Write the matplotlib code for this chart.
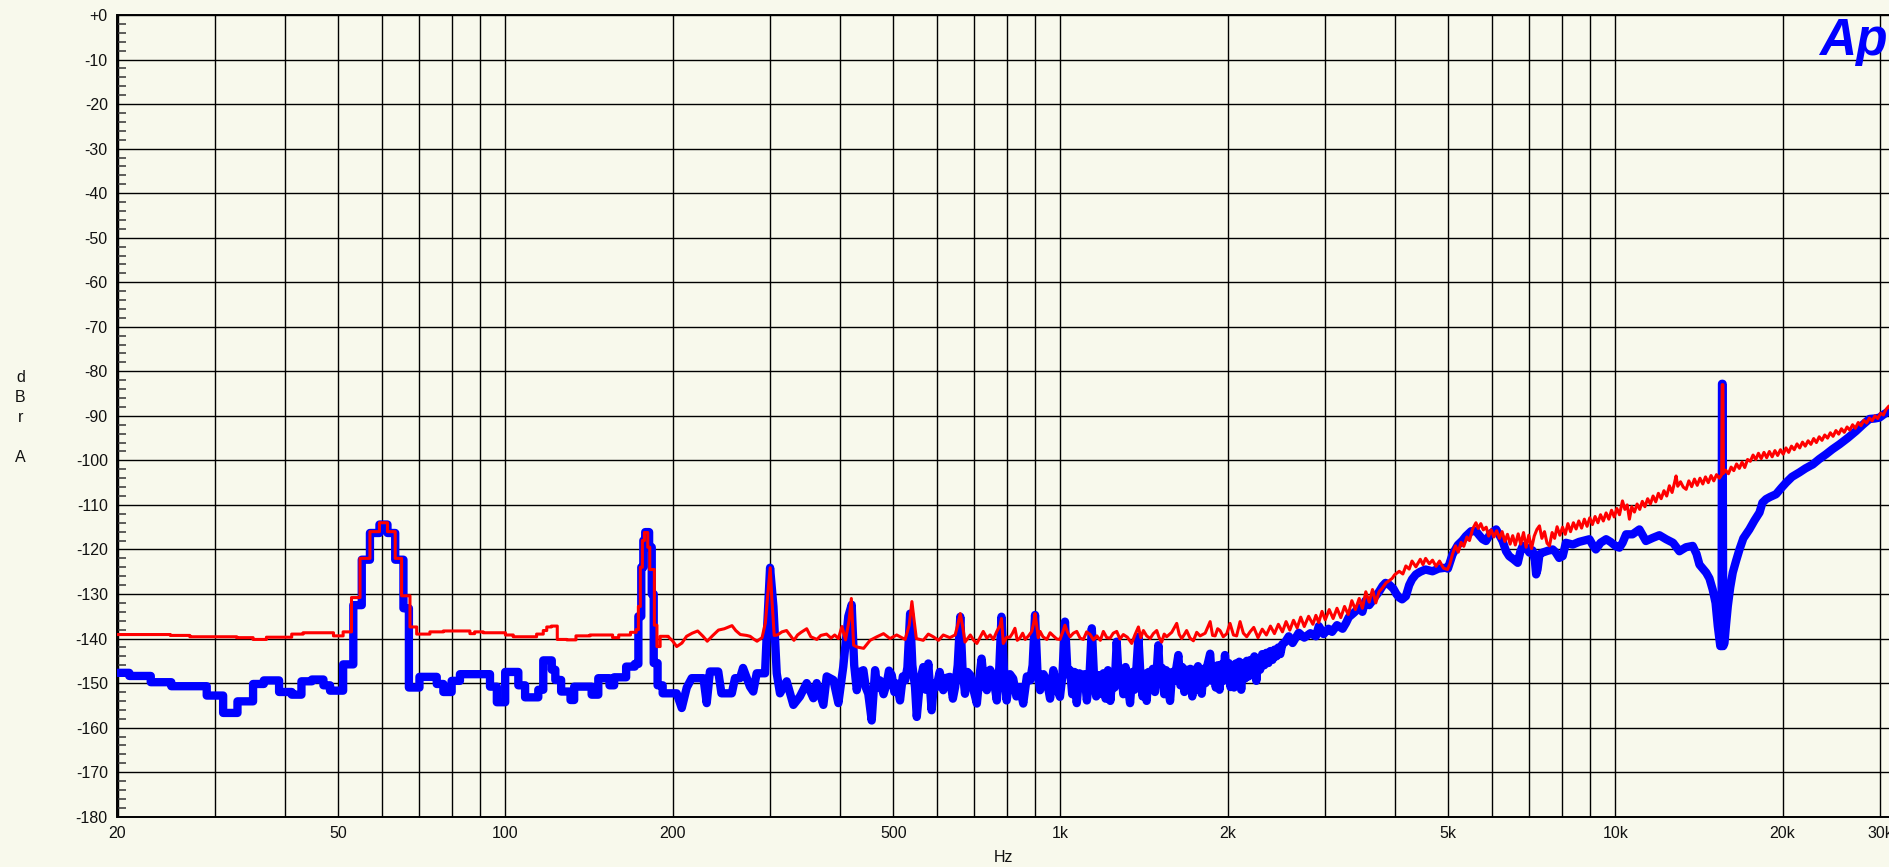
import numpy as np
import matplotlib
matplotlib.use("Agg")
import matplotlib.pyplot as plt
from matplotlib.ticker import FixedLocator, FixedFormatter, MultipleLocator, NullLocator

plt.rcParams['font.family'] = ['Liberation Sans', 'DejaVu Sans']

# ---------------- data (Hz, dBrA) ----------------
# low-frequency FFT bins drawn as steps (start frequency of each bin, level)
blue_step_hz = [20.0, 21.0, 22.96, 25.0, 28.96, 31.0, 32.9, 35.1, 36.7, 39.1, 41.2, 42.9, 44.8, 47.0,
                48.3, 51.0, 53.2, 55.1, 57.0, 59.3, 61.3, 63.3, 65.5, 67.0, 70.0, 75.2, 77.3, 80.0,
                82.8, 93.8, 96.5, 99.9, 105.5, 108.5, 114.6, 117.0, 121.2, 123.0, 126.0, 131.0,
                133.0, 143.0, 147.0, 154.0, 157.0, 165.0, 171.0, 173.6, 175.7, 177.2, 178.6, 181.5,
                183.5, 185.0, 188.0, 192.0, 196.5]
blue_step_db = [-147.7, -148.4, -149.8, -150.7, -152.8, -156.7, -154.1, -150.2, -149.4, -152.0, -152.6,
                -149.6, -149.2, -150.5, -151.7, -145.8, -132.5, -122.3, -116.3, -114.4, -116.3, -122.3,
                -133.2, -151.0, -148.6, -150.2, -152.0, -149.5, -148.0, -150.8, -154.3, -147.5, -150.5,
                -153.2, -151.5, -144.9, -147.0, -149.3, -151.9, -153.8, -150.8, -152.6, -148.9, -150.5,
                -148.7, -146.3, -145.7, -135.0, -124.0, -118.0, -116.1, -119.5, -130.0, -145.5, -150.5,
                -152.3, -152.3]

blue_hz = [203.5, 207.8, 212.2, 216.6, 227.4, 230.5, 233.6, 241.8, 245, 255.8, 259.2, 264.6, 268, 275.8,
           279.6, 283.6, 293.6, 295.4, 299.8, 304, 308.2, 312.4, 321.2, 330.2, 339.4, 349, 358.8, 363.8,
           374, 379.2, 389.8, 398, 406.2, 414.8, 420.6,
           425, 429.6, 435, 441.5, 446, 450.6, 457, 463.5, 468, 473, 480, 486.4, 491, 496.7, 502, 507,
           514, 520, 525, 530, 536, 541, 547, 551, 558, 566, 572, 578, 586, 592, 598, 606, 615, 624,
           632, 640, 646, 653, 660, 666, 673, 680, 688, 697, 707, 714, 721, 729, 737, 747, 757, 768,
           776, 783, 791, 800, 811, 822, 833, 845, 857, 870, 882, 891, 900, 909, 919, 932, 945, 958,
           971, 985,
           998, 1008, 1019, 1030, 1041, 1050, 1060, 1070, 1082, 1093, 1105, 1116, 1128, 1139, 1150,
           1160, 1171, 1183, 1195, 1206, 1218, 1230, 1242, 1252, 1263, 1274, 1286, 1298, 1310, 1322,
           1335, 1348, 1360, 1370, 1382, 1394, 1406, 1418, 1430, 1442, 1455, 1467, 1480, 1490, 1501,
           1512, 1525, 1538, 1550, 1562, 1576, 1590, 1604, 1618, 1631, 1645, 1658, 1672, 1686, 1700,
           1714, 1728, 1742, 1756, 1770, 1785, 1797, 1812, 1826, 1840, 1861, 1875, 1890, 1905, 1920,
           1935, 1950, 1965, 1979, 1995, 2010, 2025, 2040, 2055, 2070, 2085, 2100, 2117, 2133, 2150,
           2167, 2184, 2200, 2218, 2236, 2254, 2272, 2290, 2310, 2330, 2350, 2370, 2390, 2410, 2430,
           2450, 2470, 2490, 2510, 2540, 2579, 2620, 2688, 2750, 2820, 2886,
           2921, 2980, 3040, 3086, 3150, 3224, 3270, 3308, 3380, 3454, 3500, 3544, 3600, 3650, 3695,
           3750, 3806, 3852, 3912, 3980, 4030, 4078, 4127, 4192, 4250, 4300, 4370, 4450, 4547, 4682,
           4800, 4940, 4990,
           5088, 5200, 5300, 5378, 5495, 5606, 5700, 5766, 5844, 5950, 6096, 6180, 6260, 6353, 6436,
           6550, 6668, 6740, 6808, 6900, 6998, 7088, 7160, 7196, 7238, 7296, 7390, 7550, 7709, 7800,
           7918, 8035, 8142, 8377, 8600, 8720, 8978, 9100, 9220, 9400, 9621, 9800, 10020, 10167,
           10300, 10452, 10734, 11046, 11348,
           11676, 12000, 12340, 12700, 13040, 13400, 13780, 14000, 14170, 14370, 14570, 14770, 14970,
           15150, 15290, 15450, 15530, 15560, 15600, 15640, 15720, 15820, 15940, 16100, 16270, 16500,
           16730, 17000, 17430, 17800, 18180, 18400, 18680, 19000, 19470, 19900, 20300, 20800, 21450,
           22000, 22680, 23300, 23970, 24600, 25330, 26200, 27140, 27900, 28690, 29300, 29900, 30500,
           31240]
blue_db = [-152.3, -155.6, -151.0, -148.9, -148.9, -154.5, -147.4, -147.4, -152.3, -152.3, -148.9,
           -148.9, -146.6, -150.8, -151.9, -147.8, -147.8, -140.3, -124.1, -132.8, -147.8, -152.3,
           -149.6, -154.9, -153.0, -150.0, -153.4, -150.0, -154.9, -148.5, -149.3, -154.5, -146.3,
           -135.0, -132.4,
           -146.0, -151.6, -147.5, -147.1, -151.0, -152.4, -158.4, -147.1, -151.0, -149.4, -152.5,
           -150.1, -147.2, -148.2, -152.0, -150.1, -153.9, -148.5, -149.4, -146.5, -134.4, -146.0,
           -150.9, -157.6, -150.0, -146.4, -151.5, -145.6, -156.1, -150.0, -150.9, -147.5, -151.6,
           -148.8, -148.6, -153.5, -150.9, -146.0, -135.1, -146.5, -152.4, -147.5, -148.2, -151.5,
           -154.6, -149.0, -144.5, -150.5, -151.6, -147.0, -148.6, -153.9, -146.5, -135.1, -147.0,
           -153.9, -148.0, -149.0, -153.0, -150.9, -154.6, -148.5, -149.4, -146.0, -134.7, -147.5,
           -151.6, -148.0, -149.4, -153.5, -147.1, -151.0,
           -153.1, -148.5, -136.2, -148.0, -147.1, -152.5, -147.5, -154.5, -147.8, -150.5, -148.0,
           -153.9, -148.5, -137.7, -149.0, -153.0, -148.2, -152.4, -147.8, -153.5, -147.1, -154.0,
           -147.9, -151.0, -140.7, -149.5, -146.8, -152.5, -146.4, -150.5, -154.5, -147.5, -151.5,
           -147.0, -139.6, -148.5, -153.0, -147.9, -154.0, -147.5, -151.5, -146.8, -152.0, -148.0,
           -141.5, -149.5, -146.6, -152.5, -147.1, -151.0, -154.0, -147.5, -149.5, -146.5, -143.7,
           -150.5, -146.4, -152.0, -147.0, -150.5, -146.8, -153.0, -147.0, -151.5, -146.2, -149.5,
           -152.4, -146.8, -150.0, -146.0, -143.4, -149.5, -146.4, -151.0, -146.0, -151.5, -145.8,
           -149.5, -143.7, -149.0, -145.5, -150.9, -146.0, -151.0, -145.6, -149.5, -145.2, -151.5,
           -145.5, -149.0, -145.0, -148.5, -144.8, -147.5, -144.0, -149.5, -144.5, -147.0, -143.5,
           -146.0, -143.2, -145.5, -142.8, -144.8, -142.5, -144.0, -142.0, -143.5, -141.3, -140.8,
           -139.5, -141.0, -138.7, -139.8, -138.8, -139.5,
           -137.2, -139.0, -137.8, -138.5, -137.0, -137.8, -136.5, -135.2, -134.2, -133.1, -134.0,
           -131.5, -132.5, -131.5, -130.5, -129.5, -128.2, -127.5, -127.9, -128.8, -130.0, -130.8,
           -131.2, -130.5, -128.0, -126.7, -125.6, -125.0, -124.5, -124.9, -124.3, -124.1, -124.3,
           -121.1, -119.0, -118.0, -117.0, -115.9, -115.9, -117.0, -117.7, -118.1, -116.5, -115.5,
           -116.8, -118.1, -120.4, -121.5, -122.2, -123.0, -120.5, -119.2, -119.5, -120.7, -120.2,
           -122.5, -125.6, -124.5, -121.1, -120.7, -120.3, -120.0, -120.6, -121.9, -121.5, -118.5,
           -118.9, -118.3, -118.1, -117.7, -119.0, -120.0, -118.5, -117.7, -118.3, -119.3, -119.6,
           -118.5, -116.6, -116.6, -115.5, -118.1,
           -117.4, -116.8, -117.7, -118.5, -120.4, -119.5, -119.2, -121.0, -123.4, -124.3, -125.2,
           -126.5, -129.0, -132.0, -137.2, -141.7, -141.7, -82.8, -82.8, -141.7, -141.0, -137.0,
           -132.7, -128.5, -125.2, -122.5, -120.0, -117.5, -115.5, -113.5, -111.7, -109.5, -108.7,
           -108.2, -107.6, -106.2, -105.0, -103.7, -102.7, -101.8, -100.9, -99.7, -98.6, -97.5,
           -96.4, -95.0, -93.4, -92.0, -90.7, -90.6, -90.4, -89.6, -88.8]

red_step_hz = [20.0, 24.9, 27.0, 32.8, 35.1, 37.1, 41.2, 43.2, 49.0, 51.0, 52.8, 54.7, 57.0, 59.3, 61.3,
               63.3, 65.0, 67.3, 69.2, 73.1, 77.3, 86.3, 88.0, 91.2, 100.0, 103.3, 113.8, 117.0, 118.7,
               121.0, 124.0, 129.0, 134.0, 142.0, 156.0, 160.0, 168.0, 172.0, 173.6, 175.0, 176.5,
               178.0, 180.5, 182.0, 185.5, 187.5, 190.0, 196.5]
red_step_db = [-139.1, -139.3, -139.6, -139.8, -140.2, -139.7, -139.0, -138.7, -139.4, -138.5, -130.8,
               -122.0, -116.0, -114.0, -116.0, -122.0, -130.4, -137.4, -139.0, -138.5, -138.3, -138.9,
               -138.5, -138.7, -139.2, -139.6, -139.0, -138.2, -137.4, -137.2, -140.2, -140.3, -139.4,
               -139.2, -139.8, -139.2, -138.6, -138.0, -132.8, -124.0, -118.0, -116.2, -119.5, -124.5,
               -137.0, -141.8, -139.5, -139.6]

red_hz = [200, 203.5, 208, 212, 217, 222, 227, 231, 236, 242, 248, 256, 260, 265, 272, 276, 280, 284,
          290, 294, 297, 300, 302, 305, 309, 315, 321, 326, 331, 336, 341, 349, 355, 364, 370, 379, 386,
          392, 398, 404, 410, 416, 420, 424, 430, 442, 454, 467, 480, 493, 507, 525, 534, 540, 545, 550,
          566, 578, 590, 603, 615, 632, 646, 653, 660, 667, 673, 688, 697, 707, 716, 726, 737, 747, 757,
          768, 779, 783, 789, 800, 811, 819, 828, 836, 845, 855, 864, 876, 888, 895, 900, 905, 912, 919,
          930, 945, 958, 971, 985, 998, 1010, 1019, 1030, 1041, 1055, 1070, 1085, 1100, 1115, 1131,
          1147, 1163, 1180, 1195, 1212, 1229, 1245, 1263, 1280, 1298, 1320, 1344, 1362, 1382, 1396,
          1411, 1430, 1451, 1470, 1491, 1505, 1522, 1538, 1554, 1587, 1620, 1637, 1654, 1670, 1688,
          1712, 1736, 1760, 1785, 1823, 1861, 1880, 1900, 1920, 1939, 1965, 1994, 2021, 2050, 2077,
          2107, 2136, 2166, 2196,
          2230, 2270, 2310, 2350, 2390, 2430, 2470, 2512, 2550, 2590, 2630, 2670, 2710, 2750, 2800,
          2850, 2886, 2920, 2960, 3000, 3050, 3100, 3150, 3200, 3250, 3300, 3350, 3400, 3454, 3500,
          3550, 3600, 3650, 3700, 3750, 3806, 3860, 3912, 3960, 4000, 4078, 4140, 4192, 4250, 4300,
          4370, 4450, 4500, 4550, 4620, 4682, 4750, 4820, 4900, 4982, 5030,
          5088, 5150, 5210, 5270, 5330, 5400, 5457, 5530, 5606, 5660, 5720, 5780, 5850, 5910, 5970,
          6040, 6110, 6180, 6250, 6320, 6390, 6460, 6530, 6600, 6680, 6750, 6830, 6903, 6980, 7060,
          7140, 7220, 7296, 7370, 7450, 7530, 7605, 7690, 7770, 7850, 7940, 8030, 8120, 8210, 8300,
          8400, 8494, 8590, 8690, 8790, 8890, 8990, 9090, 9190, 9300, 9400, 9510, 9620, 9730, 9840,
          9950, 10060, 10170, 10296, 10400, 10500, 10598, 10700, 10820, 10940, 11060, 11180, 11300,
          11430, 11560, 11690, 11820, 11950, 12090, 12230, 12370, 12510, 12650, 12790, 12860, 12950,
          13100, 13250, 13410, 13560, 13720, 13880, 14040, 14200, 14370, 14530, 14700, 14870, 15040,
          15210, 15390, 15540, 15570, 15620, 15650, 15800, 15980, 16160, 16340, 16530, 16720, 16910,
          17100, 17300, 17500, 17700, 17900, 18100, 18310, 18520, 18730, 18940, 19160, 19380, 19600,
          19830, 20060, 20290, 20520, 20760, 21000, 21240, 21480, 21730, 21980, 22240, 22500, 22760,
          23020, 23290, 23560, 23830, 24110, 24390, 24670, 24960, 25250, 25540, 25840, 26140, 26440,
          26750, 27060, 27380, 27700, 28020, 28350, 28680, 29010, 29350, 29690, 30040, 30390, 30750,
          31100, 31240]
red_db = [-140.5, -141.8, -141.0, -139.5, -138.8, -138.3, -139.5, -140.6, -139.4, -138.1, -137.8,
          -137.1, -138.2, -139.1, -139.3, -139.5, -140.1, -140.6, -139.8, -136.5, -130.0, -124.1,
          -131.0, -139.3, -139.2, -138.5, -138.2, -139.3, -140.4, -139.2, -138.6, -137.8, -139.6,
          -140.2, -139.3, -139.0, -139.9, -139.2, -140.0, -137.3, -140.3, -136.0, -131.0, -141.5,
          -141.9, -142.2, -140.4, -139.6, -138.9, -140.0, -139.2, -140.2, -137.0, -131.7, -136.0,
          -140.0, -140.4, -139.0, -139.6, -140.4, -139.2, -139.8, -139.2, -137.0, -134.4, -137.5,
          -140.8, -139.2, -140.3, -141.1, -139.8, -138.4, -139.9, -139.2, -140.2, -138.4, -137.0,
          -135.5, -141.1, -139.7, -139.7, -138.9, -137.7, -140.4, -139.9, -138.8, -140.2, -139.4,
          -138.4, -136.5, -134.4, -136.5, -139.8, -138.4, -139.6, -140.2, -138.7, -139.4, -140.1,
          -140.2, -138.5, -137.0, -138.6, -139.6, -138.8, -138.4, -139.9, -140.2, -138.5, -139.1,
          -140.3, -139.4, -140.4, -138.4, -139.8, -139.9, -138.8, -138.4, -140.1, -139.1, -139.7,
          -141.1, -139.2, -137.4, -139.8, -138.2, -139.4, -140.0, -138.9, -138.2, -139.7, -140.8,
          -139.0, -139.6, -138.6, -136.6, -139.1, -140.0, -139.2, -138.2, -139.9, -140.5, -138.6,
          -139.4, -138.8, -136.2, -139.3, -139.4, -137.8, -138.2, -139.6, -138.9, -136.6, -139.2,
          -139.4, -136.2, -138.8, -139.6, -138.5,
          -137.5, -139.8, -137.9, -139.2, -137.2, -138.9, -136.8, -138.5, -136.2, -138.1, -135.9,
          -137.6, -135.2, -137.3, -135.0, -136.8, -134.8, -136.4, -133.9, -135.8, -133.5, -135.5,
          -133.2, -135.3, -132.8, -134.6, -131.5, -133.5, -131.0, -133.2, -129.5, -131.8, -129.0,
          -132.0, -129.5, -128.6, -127.5, -127.0, -126.5, -125.7, -124.9, -125.5, -123.7, -124.4,
          -122.6, -123.9, -122.2, -123.4, -122.0, -123.2, -122.4, -123.8, -122.6, -124.2, -124.5,
          -123.3,
          -121.0, -119.2, -120.6, -118.4, -119.3, -117.2, -118.0, -115.4, -114.0, -115.3, -114.2,
          -115.6, -115.0, -117.0, -115.6, -117.2, -115.8, -117.5, -116.0, -118.2, -116.6, -118.8,
          -116.9, -119.0, -116.5, -118.8, -116.2, -119.5, -116.8, -119.8, -117.0, -115.5, -114.7,
          -117.5, -116.0, -118.6, -119.2, -116.2, -117.5, -114.9, -116.8, -115.0, -116.6, -114.2,
          -116.0, -114.0, -115.4, -113.6, -115.2, -113.2, -114.8, -112.9, -114.4, -112.6, -114.0,
          -112.2, -113.6, -111.8, -113.2, -111.2, -112.7, -110.8, -112.2, -109.1, -111.0, -110.0,
          -113.2, -110.4, -111.6, -109.8, -111.0, -109.2, -110.4, -108.6, -109.8, -108.0, -109.3,
          -107.4, -108.6, -106.8, -108.0, -105.7, -107.2, -104.8, -103.5, -105.8, -104.8, -106.0,
          -106.5, -104.6, -105.9, -104.2, -105.6, -104.0, -105.3, -103.7, -105.0, -103.4, -104.6,
          -103.2, -104.0, -103.2, -83.0, -83.0, -102.9, -102.2, -103.0, -101.5, -102.3, -100.8,
          -101.8, -100.4, -101.6, -99.8, -100.2, -98.8, -99.8, -98.4, -99.6, -98.2, -99.4, -98.0,
          -99.2, -97.8, -98.9, -97.6, -98.6, -97.2, -98.2, -96.8, -97.6, -96.3, -97.2, -95.9, -96.8,
          -95.6, -96.4, -95.1, -96.0, -94.7, -95.5, -94.3, -95.0, -93.8, -94.6, -93.3, -94.1, -92.9,
          -93.7, -92.5, -93.2, -92.0, -92.8, -91.5, -92.2, -91.0, -91.6, -90.5, -91.1, -90.0, -90.6,
          -89.4, -89.8, -88.5, -87.8, -88.2]

x_grid_hz = [20, 30, 40, 50, 60, 70, 80, 90, 100, 200, 300, 400, 500, 600, 700, 800, 900,
             1000, 2000, 3000, 4000, 5000, 6000, 7000, 8000, 9000, 10000, 20000, 30000]
x_label_hz = [20, 50, 100, 200, 500, 1000, 2000, 5000, 10000, 20000, 30000]
x_label_txt = ['20', '50', '100', '200', '500', '1k', '2k', '5k', '10k', '20k', '30k']
y_ticks = list(range(0, -181, -10))
y_tick_txt = ['+0'] + [str(v) for v in y_ticks[1:]]


def steps_then_line(step_hz, step_db, hz, db):
    sx = np.repeat(np.asarray(step_hz, float), 2)[1:]
    sy = np.repeat(np.asarray(step_db, float), 2)[:-1]
    return np.concatenate([sx, hz]), np.concatenate([sy, db])


W, H = 1890, 867
BG = '#F8F9EC'
FS = 11.5
fig = plt.figure(figsize=(W / 100, H / 100), dpi=100, facecolor=BG)
L, R, T, B = 117.5, 1890, 15, 816.7
ax = fig.add_axes([L / W, 1 - B / H, (R - L) / W, (B - T) / H], facecolor=BG)

ax.set_xscale('log')
ax.set_xlim(20, 31240)
ax.set_ylim(-180, 0)

bx, by = steps_then_line(blue_step_hz, blue_step_db, blue_hz, blue_db)
rx, ry = steps_then_line(red_step_hz, red_step_db, red_hz, red_db)
ax.plot(bx, by, color='#0000FF', lw=6.0, solid_joinstyle='round', solid_capstyle='round', zorder=3)
ax.plot(rx, ry, color='#FF0000', lw=2.2, solid_joinstyle='round', solid_capstyle='round', zorder=4)

# x axis
ax.xaxis.set_major_locator(FixedLocator(x_grid_hz))
lab = [x_label_txt[x_label_hz.index(v)] if v in x_label_hz else '' for v in x_grid_hz]
ax.xaxis.set_major_formatter(FixedFormatter(lab))
ax.xaxis.set_minor_locator(NullLocator())
ax.tick_params(axis='x', which='major', length=0, pad=7, labelsize=FS, labelcolor='#111111')

# y axis
ax.yaxis.set_major_locator(FixedLocator(y_ticks))
ax.yaxis.set_major_formatter(FixedFormatter(y_tick_txt))
ax.yaxis.set_minor_locator(MultipleLocator(2))
ax.tick_params(axis='y', which='major', length=0, pad=7, labelsize=FS, labelcolor='#111111')
ax.tick_params(axis='y', which='minor', direction='in', length=6.5, width=1.1, color='#333333',
               left=True, right=False)

ax.grid(True, which='major', color='#000000', lw=1.0, zorder=1)
ax.set_axisbelow(True)
for s in ['left', 'top', 'bottom']:
    ax.spines[s].set_color('#000000')
    ax.spines[s].set_linewidth(1.4)
ax.spines['right'].set_visible(False)

# axis titles
for ch, yy in zip(['d', 'B', 'r', 'A'], [378, 398, 417, 457]):
    fig.text(20.5 / W, 1 - yy / H, ch, ha='center', va='center', fontsize=FS, color='#111111')
fig.text(1003 / W, 1 - 858 / H, 'Hz', ha='center', va='center', fontsize=FS, color='#111111')

# logo
fig.text(1819 / W, 1 - 55 / H, 'Ap', ha='left', va='baseline', fontsize=37, color='#0000FF',
         fontweight='bold', fontstyle='italic')

fig.savefig('out.png', dpi=100, facecolor=BG)
